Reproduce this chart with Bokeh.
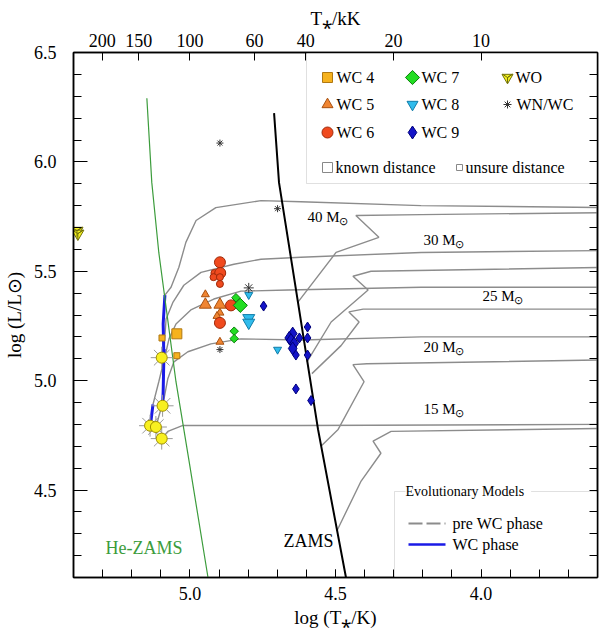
import math
from bokeh.plotting import figure
from bokeh.models import Range1d, LinearAxis, FixedTicker, Label, BoxAnnotation, PrintfTickFormatter
from bokeh.embed import file_html
from bokeh.resources import INLINE

# ---------------- data ----------------
xticks_logT = [5.0, 4.5, 4.0]
yticks_logL = [4.5, 5.0, 5.5, 6.0, 6.5]
top_ticks_kK = [200, 150, 100, 60, 40, 20, 10]

zams_logT = [4.711, 4.694, 4.629, 4.560, 4.464]
zams_logL = [6.223, 5.905, 5.359, 4.777, 4.100]
hezams_logT = [5.148, 5.131, 5.107, 5.048, 5.003, 4.938]
hezams_logL = [6.291, 5.905, 5.586, 4.995, 4.632, 4.100]

track_masses = ["40", "30", "25", "20", "15"]

t40_pre_T = [4.629, 4.498, 4.351, 4.430, 4.206, 3.56, 3.56, 4.206, 4.619, 4.756, 4.911, 4.979, 5.014, 5.038, 5.065, 5.086]
t40_pre_L = [5.359, 5.586, 5.655, 5.755, 5.759, 5.768, 5.791, 5.800, 5.818, 5.823, 5.791, 5.732, 5.632, 5.518, 5.427, 5.391]
t40_wc_T = [5.086, 5.092, 5.090, 5.097]
t40_wc_L = [5.391, 5.26, 5.132, 5.105]

t30_pre_T = [4.598, 4.515, 4.388, 4.440, 4.378, 3.56, 3.56, 4.206, 4.619, 4.756, 4.849, 4.962, 5.021, 5.058, 5.082, 5.089]
t30_pre_L = [5.086, 5.268, 5.414, 5.477, 5.500, 5.518, 5.595, 5.586, 5.564, 5.555, 5.532, 5.495, 5.436, 5.359, 5.282, 5.145]
t30_wc_T = [5.089, 5.092, 5.094]
t30_wc_L = [5.145, 4.95, 4.885]

t25_pre_T = [4.581, 4.481, 4.419, 4.454, 4.405, 3.56, 3.56, 4.206, 4.663, 4.825, 4.918, 4.997, 5.048, 5.072, 5.082, 5.107, 5.127]
t25_pre_L = [5.032, 5.160, 5.268, 5.314, 5.327, 5.327, 5.427, 5.427, 5.414, 5.409, 5.373, 5.323, 5.259, 5.191, 5.132, 4.995, 4.891]
t25_wc_T = [5.127, 5.134, 5.137]
t25_wc_L = [4.891, 4.814, 4.795]

t20_pre_T = [4.550, 4.491, 4.402, 4.440, 4.392, 3.56, 3.56, 4.206, 4.619, 4.825, 4.928, 5.007, 5.055, 5.076, 5.089, 5.107, 5.117]
t20_pre_L = [4.700, 4.777, 4.995, 5.073, 5.077, 5.095, 5.200, 5.200, 5.186, 5.191, 5.168, 5.132, 5.086, 5.009, 4.918, 4.836, 4.786]

t15_pre_T = [4.495, 4.412, 4.344, 4.371, 4.309, 3.56, 3.56, 4.619, 5.024, 5.076, 5.096]
t15_pre_L = [4.314, 4.541, 4.668, 4.723, 4.768, 4.782, 4.800, 4.795, 4.795, 4.768, 4.736]

# stars: log T*, log L, known distance (1) / unsure (0)
wc4_T = [5.045, 5.096, 5.045]
wc4_L = [5.214, 5.195, 5.114]
wc4_known = [1, 0, 0]
wc5_T = [4.947, 4.947, 4.897, 4.897, 4.907, 4.897]
wc5_L = [5.394, 5.347, 5.347, 5.310, 5.295, 5.177]
wc5_known = [0, 1, 1, 0, 0, 0]
wc6_T = [4.897, 4.916, 4.896, 4.919, 4.897, 4.897, 4.859, 4.897]
wc6_L = [5.541, 5.492, 5.492, 5.473, 5.473, 5.442, 5.344, 5.264]
wc6_known = [1, 0, 1, 0, 0, 0, 1, 1]
wc7_T = [4.842, 4.827, 4.848, 4.848]
wc7_L = [5.379, 5.344, 5.226, 5.192]
wc7_known = [0, 1, 0, 0]
wc8_T = [4.798, 4.798, 4.798, 4.699]
wc8_L = [5.392, 5.286, 5.265, 5.142]
wc8_known = [0, 1, 1, 0]
wc9_T = [4.747, 4.596, 4.647, 4.659, 4.653, 4.642, 4.624, 4.596, 4.647, 4.636, 4.596, 4.636, 4.584]
wc9_L = [5.341, 5.245, 5.215, 5.195, 5.185, 5.170, 5.195, 5.195, 5.147, 5.117, 5.117, 4.962, 4.909]
wc9_known = [0, 0, 1, 1, 1, 1, 0, 0, 1, 0, 0, 0, 0]
wnwc_T = [4.798, 4.897, 4.699, 4.897]
wnwc_L = [5.424, 5.142, 5.786, 6.086]
wnwc_known = [1, 0, 0, 0]
wo_T = [5.388, 5.385]
wo_L = [5.685, 5.672]
end_T = [5.097, 5.094, 5.137, 5.117, 5.097]
end_L = [5.105, 4.885, 4.794, 4.788, 4.735]

# ---------------- figure ----------------
SERIF = "'Liberation Serif', 'Times New Roman', serif"
X0, X1, Y0, Y1 = 5.4, 3.6, 4.1, 6.5
FL, FR, FT, FB = 73, 597, 52, 577   # frame edges in page pixels
W, H = 600, 636

def X(px):
    return X0 + (px - FL) * (X1 - X0) / (FR - FL)

def Y(py):
    return Y1 - (py - FT) * (Y1 - Y0) / (FB - FT)

p = figure(width=W, height=H, x_range=Range1d(X0, X1), y_range=Range1d(Y0, Y1),
           output_backend="svg", toolbar_location=None,
           min_border_left=FL, min_border_right=W - FR,
           min_border_top=FT, min_border_bottom=H - FB)
p.xgrid.visible = False
p.ygrid.visible = False
p.outline_line_color = "black"
p.outline_line_width = 1.5

def style_axis(ax, size="18px"):
    ax.major_label_text_font = SERIF
    ax.major_label_text_font_size = size
    ax.major_label_text_color = "black"
    ax.axis_label_text_font = SERIF
    ax.axis_label_text_font_size = "19px"
    ax.axis_label_text_font_style = "normal"
    ax.axis_label_text_color = "black"
    ax.major_tick_out = 0
    ax.minor_tick_out = 0
    ax.axis_line_color = "black"
    ax.axis_line_width = 1.5
    ax.major_tick_line_color = "black"
    ax.minor_tick_line_color = "black"

xa = p.xaxis[0]
xa.ticker = FixedTicker(ticks=xticks_logT, minor_ticks=[round(3.7 + 0.1 * i, 1) for i in range(17)])
xa.formatter = PrintfTickFormatter(format="%.1f")
style_axis(xa)
xa.major_tick_in = 8
xa.minor_tick_in = 8
xa.major_label_standoff = 9
xa.axis_label = "log (T\u204e/K)"
xa.axis_label_standoff = 4

ya = p.yaxis[0]
ya.ticker = FixedTicker(ticks=yticks_logL, minor_ticks=[round(4.2 + 0.1 * i, 1) for i in range(23)])
ya.formatter = PrintfTickFormatter(format="%.1f")
style_axis(ya)
ya.major_tick_in = 14
ya.minor_tick_in = 8
ya.major_label_standoff = 17
ya.axis_label = "log (L/L\u2299)"
ya.axis_label_standoff = 6

top_pos = [round(math.log10(t * 1000), 4) for t in top_ticks_kK]
ta = LinearAxis(ticker=FixedTicker(ticks=top_pos),
                major_label_overrides={k: str(t) for k, t in zip(top_pos, top_ticks_kK)})
style_axis(ta)
ta.major_tick_in = 8
ta.major_label_standoff = 6
ta.axis_label = "T\u204e/kK"
ta.axis_label_standoff = 2
p.add_layout(ta, "above")

ra = LinearAxis(ticker=FixedTicker(ticks=[], minor_ticks=[round(4.2 + 0.1 * i, 1) for i in range(23)]))
style_axis(ra)
ra.minor_tick_in = 8
ra.major_label_standoff = 0
ra.axis_label_standoff = 0
ra.major_label_text_font_size = "0px"
p.add_layout(ra, "right")

# ---------------- lines ----------------
GRAY = "#8c8c8c"
BLUE = "#1a1ae6"
for tT, tL in [(t40_pre_T, t40_pre_L), (t30_pre_T, t30_pre_L), (t25_pre_T, t25_pre_L),
               (t20_pre_T, t20_pre_L), (t15_pre_T, t15_pre_L)]:
    p.line(tT, tL, line_color=GRAY, line_width=1.4)
for tT, tL in [(t40_wc_T, t40_wc_L), (t30_wc_T, t30_wc_L), (t25_wc_T, t25_wc_L)]:
    p.line(tT, tL, line_color=BLUE, line_width=3)

p.line(hezams_logT, hezams_logL, line_color="#3c9c3c", line_width=1.2)
p.line(zams_logT, zams_logL, line_color="black", line_width=2)

# ---------------- stars ----------------
def sz(known, big, small):
    return [big if k else small for k in known]

p.scatter(wc4_T, wc4_L, marker="square", size=sz(wc4_known, 10, 6), fill_color="#f6b21e", line_color="#b07812")
p.scatter(wc5_T, wc5_L, marker="triangle", size=sz(wc5_known, 12, 8), fill_color="#f08532", line_color="#a85010")
p.scatter(wc6_T, wc6_L, marker="circle", size=sz(wc6_known, 11, 7), fill_color="#f04a1e", line_color="#a02a0a")
p.scatter(wc7_T, wc7_L, marker="square", angle=math.pi / 4, size=sz(wc7_known, 10, 6), fill_color="#22dd22", line_color="#0a800a")
p.scatter(wc8_T, wc8_L, marker="inverted_triangle", size=sz(wc8_known, 12, 8), fill_color="#30bcec", line_color="#107ca8")
p.scatter(wc9_T, wc9_L, marker="diamond", size=sz(wc9_known, 13, 10), fill_color="#1414c8", line_color="#00007a")
p.scatter(wnwc_T, wnwc_L, marker="asterisk", size=sz(wnwc_known, 10, 7), line_color="#333333", line_width=1)
p.scatter(wo_T, wo_L, marker="inverted_triangle", size=12, fill_color="#f4f020", line_color="#70700a")
p.scatter(wo_T, wo_L, marker="y", size=12, line_color="#70700a", line_width=1)
p.scatter(end_T, end_L, marker="asterisk", size=22, line_color="#9a9a9a", line_width=1)
p.scatter(end_T, end_L, marker="circle", size=11, fill_color="#f8f020", line_color="#a09000")

# ---------------- text helpers ----------------
def txt(px, py, s, size=16, color="black", italic=False, align="left", angle=0.0, bg=None, font=SERIF):
    p.add_layout(Label(x=X(px), y=Y(py), text=s, text_font=font, text_font_size=f"{size}px",
                       text_color=color, text_font_style="italic" if italic else "normal",
                       text_align=align, text_baseline="middle", angle=angle,
                       background_fill_color=bg))

def mark(px, py, marker, size, fill=None, line="black", angle=0.0, lw=1):
    p.scatter([X(px)], [Y(py)], marker=marker, size=size, fill_color=fill, line_color=line,
              angle=angle, line_width=lw, level="overlay")

# line labels
txt(283, 540, "ZAMS", 18)
txt(105, 547, "He-ZAMS", 18, color="#3c9c3c")
for m, (px, py) in zip(track_masses, [(307, 216), (423, 239), (482, 295), (423, 346), (423, 408)]):
    txt(px, py, f"{m} M", 15)
    txt(px + 31, py + 4, "\u2299", 11)

# legend (stars)
p.add_layout(BoxAnnotation(left=X(306), right=X(597), top=Y(52), bottom=Y(183),
                           fill_color="white", fill_alpha=1, line_color="#999999",
                           line_width=1, level="underlay"))
c1, c2, c3 = 327, 412, 507
r1, r2, r3, r4 = 77, 104, 132, 167
mark(c1, r1, "square", 10, "#f6b21e", "#b07812")
txt(c1 + 9, r1, "WC 4")
mark(c1, r2, "triangle", 11, "#f08532", "#a85010")
txt(c1 + 9, r2, "WC 5")
mark(c1, r3, "circle", 11, "#f04a1e", "#a02a0a")
txt(c1 + 9, r3, "WC 6")
mark(c2, r1, "square", 10, "#22dd22", "#0a800a", angle=math.pi / 4)
txt(c2 + 9, r1, "WC 7")
mark(c2, r2, "inverted_triangle", 11, "#30bcec", "#107ca8")
txt(c2 + 9, r2, "WC 8")
mark(c2, r3, "diamond", 13, "#1414c8", "#00007a")
txt(c2 + 9, r3, "WC 9")
mark(c3, r1, "inverted_triangle", 11, "#f4f020", "#70700a")
mark(c3, r1, "y", 11, None, "#70700a")
txt(c3 + 8, r1, "WO")
mark(c3, r2, "asterisk", 8, None, "#333333")
txt(c3 + 9, r2, "WN/WC")
mark(c1, r4, "square", 10, "white", "#888888")
txt(c1 + 8, r4, "known distance")
mark(459, r4, "square", 6, "white", "#888888")
txt(465, r4, "unsure distance")

# legend (evolutionary models)
p.add_layout(BoxAnnotation(left=X(394), right=X(620), top=Y(491), bottom=Y(600),
                           fill_color="white", fill_alpha=1, line_color="#999999",
                           line_width=1, level="underlay"))
txt(405, 491, " Evolutionary Models ", 14, bg="white")
p.line([X(408), X(445)], [Y(523), Y(523)], line_color=GRAY, line_width=2, line_dash="14 4", level="overlay")
txt(452, 523, "pre WC phase", 16)
p.line([X(408), X(445)], [Y(544), Y(544)], line_color=BLUE, line_width=2.5, level="overlay")
txt(452, 544, "WC phase", 16)

open("out.html", "w").write(file_html(p, INLINE))
